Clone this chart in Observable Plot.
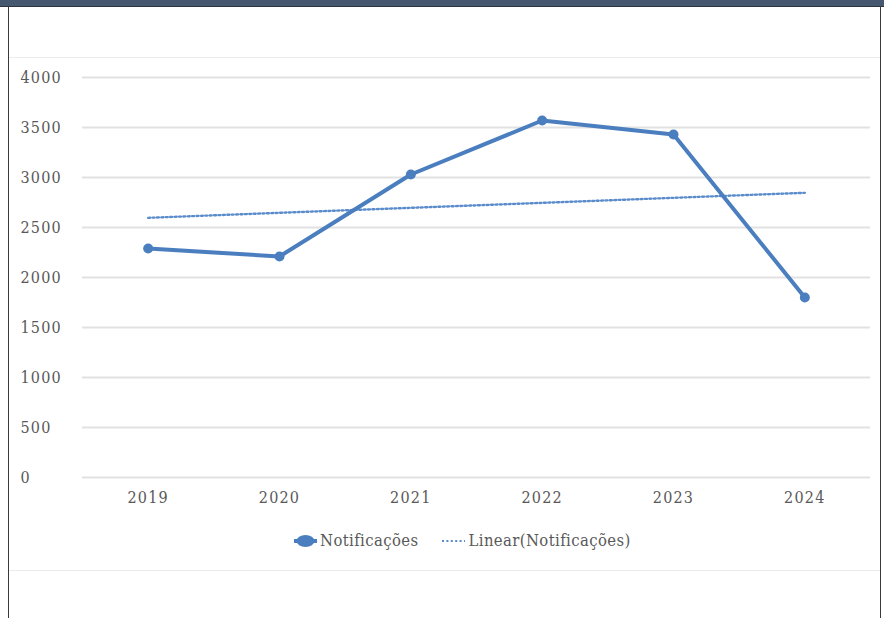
<!DOCTYPE html>
<html>
<head>
<meta charset="utf-8">
<script src="https://cdn.jsdelivr.net/npm/d3@7"></script>
<script src="https://cdn.jsdelivr.net/npm/@observablehq/plot@0.6"></script>
<style>
  html, body { margin: 0; padding: 0; background: #fff; }
  #wrap { position: relative; width: 884px; height: 618px; overflow: hidden; background: #fff; }
  #band { position: absolute; left: 0; top: 0; width: 884px; height: 6px; background: #465870; border-bottom: 1px solid #2b3440; }
  #lb { position: absolute; left: 8px; top: 6px; width: 1px; height: 612px; background: #3a3a3a; }
  #rb { position: absolute; left: 880px; top: 6px; width: 1px; height: 612px; background: #3a3a3a; }
  .hl { position: absolute; left: 9px; width: 871px; height: 1px; background: #ececec; }
  #chart { position: absolute; left: 0; top: 60px; }
  #chart text { letter-spacing: 1.2px; }
  #legend { position: absolute; left: 293px; top: 531px; display: flex; align-items: center; gap: 24px;
            font-family: "DejaVu Serif Condensed", "DejaVu Serif", serif; font-size: 16.5px; color: #595959; letter-spacing: 0.4px; }
  .item { display: flex; align-items: center; gap: 2px; }
</style>
</head>
<body>
<div id="wrap">
  <div id="band"></div>
  <div id="lb"></div>
  <div id="rb"></div>
  <div class="hl" style="top:57px"></div>
  <div class="hl" style="top:570px"></div>
  <div id="chart"></div>
  <div id="legend">
    <div class="item">
      <svg width="25" height="16"><line x1="1" y1="8" x2="24" y2="8" stroke="#4a7ebf" stroke-width="4"/><ellipse cx="12.5" cy="8" rx="9" ry="6" fill="#4a7ebf"/></svg>
      <span>Notificações</span>
    </div>
    <div class="item">
      <svg width="24" height="16"><line x1="0" y1="8" x2="23" y2="8" stroke="#5a8ccc" stroke-width="2.2" stroke-dasharray="2,2.4"/></svg>
      <span>Linear(Notificações)</span>
    </div>
  </div>
</div>
<script>
const years = [2019, 2020, 2021, 2022, 2023, 2024];
const notificacoes = [2290, 2210, 3030, 3570, 3430, 1800];
const yTicks = [0, 500, 1000, 1500, 2000, 2500, 3000, 3500, 4000];
const seriesName = "Notificações";

const data = years.map((y, i) => ({year: y, value: notificacoes[i]}));
const color = "#4a7ebf";

const chart = Plot.plot({
  width: 884,
  height: 450,
  marginTop: 17,
  marginBottom: 33,
  marginLeft: 82,
  marginRight: 14,
  style: {fontFamily: "'DejaVu Serif Condensed', 'DejaVu Serif', serif", fontSize: "16px", color: "#595959", background: "transparent"},
  x: {type: "linear", domain: [2018.5, 2024.5]},
  y: {domain: [0, 4000]},
  marks: [
    Plot.gridY(yTicks, {stroke: "#e2e2e2", strokeOpacity: 1, strokeWidth: 1.8}),
    Plot.axisY(yTicks, {tickSize: 0, textAnchor: "start", dx: -53, tickFormat: d => String(d), label: null, fill: "#595959"}),
    Plot.axisX(years, {tickSize: 0, tickPadding: 14, tickFormat: d => String(d), label: null, fill: "#595959"}),
    Plot.linearRegressionY(data, {x: "year", y: "value", ci: 0, stroke: "#5a8ccc", strokeWidth: 2.4, strokeDasharray: "2,2.4"}),
    Plot.line(data, {x: "year", y: "value", stroke: color, strokeWidth: 4}),
    Plot.dot(data, {x: "year", y: "value", r: 5, fill: color})
  ]
});
document.getElementById("chart").appendChild(chart);
</script>
</body>
</html>
